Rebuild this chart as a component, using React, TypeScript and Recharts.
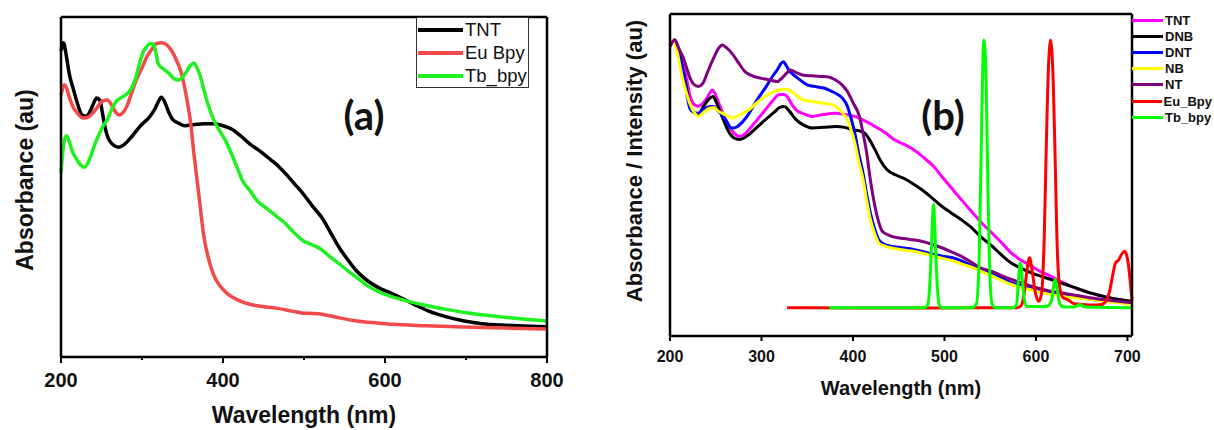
import React from "react";
import { LineChart, Line, XAxis, YAxis, Legend } from "recharts";

// ---- panel (a): wavelength (nm) / absorbance (au, arbitrary) ----
const ticksA = [200, 300, 400, 500, 600, 700, 800];

const tntA: number[][] = [
  [200, 0.9], [203, 0.924], [207, 0.88], [210, 0.835], [215, 0.79], [219, 0.756], [226, 0.712],
  [231, 0.708], [235, 0.718], [240, 0.745], [244, 0.762], [248, 0.755], [251, 0.72], [254, 0.68],
  [258, 0.645], [264, 0.625], [271, 0.617], [278, 0.625], [288, 0.65], [298, 0.68], [309, 0.705],
  [316, 0.73], [320, 0.75], [324, 0.764], [328, 0.75], [333, 0.72], [338, 0.698], [345, 0.688],
  [353, 0.68], [365, 0.684], [378, 0.686], [388, 0.686], [400, 0.68], [411, 0.67], [422, 0.65],
  [433, 0.627], [446, 0.605], [459, 0.58], [468, 0.562], [477, 0.54], [488, 0.51], [499, 0.48],
  [510, 0.445], [522, 0.41], [533, 0.365], [544, 0.32], [555, 0.283], [565, 0.253], [578, 0.225],
  [592, 0.204], [605, 0.19], [619, 0.175], [636, 0.155], [654, 0.135], [676, 0.118], [698, 0.106],
  [720, 0.098], [743, 0.094], [765, 0.092], [787, 0.09], [800, 0.089],
];

const euA: number[][] = [
  [200, 0.77], [204, 0.8], [207, 0.79], [210, 0.766], [215, 0.735], [219, 0.721], [227, 0.703],
  [233, 0.705], [239, 0.717], [245, 0.735], [250, 0.751], [257, 0.756], [264, 0.735], [268, 0.718],
  [272, 0.712], [277, 0.72], [281, 0.736], [287, 0.775], [293, 0.815], [300, 0.85], [306, 0.883],
  [312, 0.905], [318, 0.922], [325, 0.924], [332, 0.915], [338, 0.895], [343, 0.87], [348, 0.84],
  [352, 0.8], [356, 0.75], [360, 0.69], [364, 0.6], [368, 0.52], [372, 0.44], [376, 0.36],
  [381, 0.3], [388, 0.244], [396, 0.21], [406, 0.185], [418, 0.168], [433, 0.155], [450, 0.148],
  [468, 0.143], [485, 0.135], [499, 0.129], [510, 0.128], [522, 0.126], [540, 0.117], [565, 0.106],
  [590, 0.1], [610, 0.096], [650, 0.092], [698, 0.088], [750, 0.085], [800, 0.082],
];

const tbA: number[][] = [
  [200, 0.54], [202, 0.6], [205, 0.645], [207, 0.651], [210, 0.635], [214, 0.605], [218, 0.587],
  [223, 0.568], [229, 0.558], [234, 0.575], [238, 0.6], [242, 0.627], [248, 0.66], [252, 0.68],
  [257, 0.697], [263, 0.73], [269, 0.754], [276, 0.765], [282, 0.775], [287, 0.79], [292, 0.82],
  [297, 0.864], [302, 0.9], [306, 0.913], [310, 0.922], [314, 0.92], [318, 0.885], [320, 0.862],
  [326, 0.848], [333, 0.835], [340, 0.818], [345, 0.815], [349, 0.82], [355, 0.84], [360, 0.858],
  [364, 0.865], [368, 0.85], [371, 0.833], [376, 0.79], [380, 0.755], [384, 0.725], [390, 0.69],
  [396, 0.665], [403, 0.637], [410, 0.6], [417, 0.56], [424, 0.519], [433, 0.49], [442, 0.46],
  [455, 0.435], [468, 0.41], [476, 0.395], [482, 0.38], [490, 0.36], [499, 0.342], [510, 0.33],
  [521, 0.317], [532, 0.295], [544, 0.273], [555, 0.252], [565, 0.234], [578, 0.21], [592, 0.192],
  [610, 0.176], [630, 0.163], [654, 0.15], [676, 0.14], [698, 0.131], [720, 0.124], [743, 0.118],
  [770, 0.112], [800, 0.106],
];

// ---- panel (b): wavelength (nm) / absorbance-intensity (au) ----
const ticksB = [200, 300, 400, 500, 600, 700];

const tntB: number[][] = [
  [200, 0.9], [205, 0.919], [210, 0.89], [214, 0.857], [218, 0.8], [222, 0.744], [226, 0.72],
  [231, 0.713], [235, 0.72], [239, 0.733], [243, 0.752], [246, 0.764], [249, 0.755], [252, 0.733],
  [258, 0.69], [265, 0.651], [270, 0.63], [276, 0.62], [281, 0.625], [286, 0.64], [295, 0.67],
  [304, 0.702], [312, 0.73], [319, 0.749], [324, 0.75], [328, 0.744], [333, 0.72], [338, 0.702],
  [346, 0.69], [356, 0.682], [368, 0.688], [381, 0.692], [392, 0.688], [402, 0.682], [413, 0.668],
  [424, 0.651], [435, 0.632], [445, 0.61], [456, 0.595], [466, 0.579], [477, 0.555], [488, 0.527],
  [498, 0.492], [509, 0.455], [520, 0.418], [531, 0.382], [541, 0.35], [552, 0.32], [563, 0.288],
  [573, 0.258], [584, 0.235], [595, 0.217], [605, 0.2], [616, 0.186], [627, 0.17], [638, 0.155],
  [648, 0.144], [659, 0.134], [670, 0.126], [680, 0.119], [692, 0.113], [705, 0.107],
];

const dnbB: number[][] = [
  [200, 0.905], [205, 0.919], [210, 0.88], [216, 0.8], [220, 0.74], [224, 0.702], [228, 0.69],
  [231, 0.687], [235, 0.705], [239, 0.723], [243, 0.737], [247, 0.744], [250, 0.73], [254, 0.702],
  [260, 0.66], [265, 0.63], [270, 0.615], [276, 0.61], [281, 0.615], [286, 0.625], [295, 0.648],
  [304, 0.671], [314, 0.695], [320, 0.71], [325, 0.713], [330, 0.7], [338, 0.671], [346, 0.655],
  [356, 0.646], [368, 0.648], [381, 0.651], [391, 0.648], [400, 0.64], [407, 0.637], [413, 0.63],
  [418, 0.61], [424, 0.579], [430, 0.545], [437, 0.517], [447, 0.5], [458, 0.486], [466, 0.472],
  [475, 0.455], [486, 0.43], [497, 0.403], [507, 0.383], [518, 0.362], [529, 0.338], [539, 0.31],
  [552, 0.279], [563, 0.25], [573, 0.227], [584, 0.21], [595, 0.196], [605, 0.186], [616, 0.176],
  [627, 0.165], [638, 0.155], [648, 0.145], [659, 0.134], [670, 0.126], [680, 0.119], [692, 0.113],
  [705, 0.107],
];

const dntB: number[][] = [
  [200, 0.905], [205, 0.919], [210, 0.88], [215, 0.81], [219, 0.74], [222, 0.705], [226, 0.695],
  [231, 0.692], [235, 0.7], [239, 0.708], [244, 0.713], [248, 0.713], [252, 0.7], [257, 0.687],
  [262, 0.665], [267, 0.646], [272, 0.648], [278, 0.661], [286, 0.69], [295, 0.733], [304, 0.77],
  [312, 0.806], [318, 0.83], [321, 0.845], [324, 0.852], [327, 0.84], [330, 0.825], [333, 0.816],
  [340, 0.8], [350, 0.78], [360, 0.774], [368, 0.77], [375, 0.762], [381, 0.754], [388, 0.74],
  [394, 0.713], [398, 0.675], [402, 0.63], [406, 0.57], [411, 0.506], [415, 0.44], [419, 0.382],
  [424, 0.33], [428, 0.3], [434, 0.285], [441, 0.279], [453, 0.274], [466, 0.269], [477, 0.262],
  [488, 0.253], [498, 0.248], [509, 0.243], [520, 0.232], [531, 0.217], [541, 0.206], [552, 0.196],
  [563, 0.18], [573, 0.165], [584, 0.157], [595, 0.15], [605, 0.143], [616, 0.136], [627, 0.13],
  [638, 0.124], [648, 0.119], [659, 0.114], [680, 0.108], [705, 0.101],
];

const nbB: number[][] = [
  [200, 0.905], [204, 0.919], [208, 0.88], [211, 0.837], [214, 0.795], [218, 0.754], [222, 0.72],
  [227, 0.692], [231, 0.682], [235, 0.69], [239, 0.7], [244, 0.708], [248, 0.71], [252, 0.7],
  [257, 0.692], [263, 0.683], [269, 0.677], [277, 0.688], [286, 0.702], [295, 0.725], [304, 0.744],
  [312, 0.757], [319, 0.764], [325, 0.766], [330, 0.764], [338, 0.748], [346, 0.733], [357, 0.728],
  [368, 0.723], [375, 0.72], [381, 0.713], [388, 0.695], [394, 0.671], [398, 0.64], [402, 0.6],
  [406, 0.545], [411, 0.486], [415, 0.42], [419, 0.362], [424, 0.315], [428, 0.29], [434, 0.28],
  [441, 0.274], [453, 0.268], [466, 0.263], [477, 0.256], [488, 0.248], [498, 0.241], [509, 0.233],
  [520, 0.222], [531, 0.212], [541, 0.2], [552, 0.186], [563, 0.172], [573, 0.16], [584, 0.15],
  [595, 0.143], [605, 0.136], [616, 0.129], [638, 0.12], [659, 0.114], [680, 0.106], [705, 0.098],
];

const ntB: number[][] = [
  [200, 0.899], [205, 0.919], [210, 0.89], [214, 0.868], [218, 0.835], [222, 0.8], [226, 0.782],
  [231, 0.775], [236, 0.785], [242, 0.826], [248, 0.865], [253, 0.893], [257, 0.904], [262, 0.895],
  [269, 0.873], [275, 0.848], [282, 0.821], [290, 0.808], [300, 0.8], [310, 0.795], [317, 0.79],
  [322, 0.8], [327, 0.815], [332, 0.826], [338, 0.818], [346, 0.81], [355, 0.808], [364, 0.806],
  [372, 0.805], [381, 0.795], [388, 0.78], [394, 0.759], [400, 0.725], [407, 0.682], [411, 0.63],
  [415, 0.568], [419, 0.485], [424, 0.403], [428, 0.355], [432, 0.325], [440, 0.312], [449, 0.305],
  [462, 0.3], [475, 0.294], [486, 0.285], [497, 0.274], [507, 0.262], [518, 0.248], [529, 0.23],
  [539, 0.212], [552, 0.201], [563, 0.187], [573, 0.176], [584, 0.165], [595, 0.155], [605, 0.147],
  [616, 0.139], [627, 0.134], [638, 0.129], [648, 0.124], [659, 0.119], [680, 0.111], [705, 0.103],
];

const euB: number[][] = [
  [328, 0.088], [400, 0.087], [480, 0.087], [560, 0.088], [580, 0.088], [584, 0.095], [587, 0.13],
  [590, 0.2], [593, 0.243], [596, 0.2], [599, 0.14], [603, 0.108], [606, 0.13], [609, 0.3],
  [611, 0.55], [613, 0.78], [616, 0.919], [619, 0.78], [621, 0.55], [623, 0.3], [626, 0.15],
  [630, 0.118], [634, 0.114], [642, 0.1], [651, 0.098], [660, 0.096], [672, 0.098], [677, 0.11],
  [681, 0.145], [684, 0.19], [687, 0.227], [690, 0.235], [694, 0.255], [697, 0.263], [700, 0.24],
  [702, 0.2], [704, 0.14], [705, 0.11],
];

const tbB: number[][] = [
  [374, 0.088], [450, 0.088], [478, 0.088], [482, 0.1], [485, 0.22], [486.5, 0.33], [488, 0.408],
  [489.5, 0.33], [491, 0.22], [494, 0.1], [497, 0.088], [530, 0.088], [535, 0.1], [538, 0.25],
  [540, 0.55], [542, 0.85], [543, 0.919], [545, 0.85], [547, 0.55], [549, 0.25], [552, 0.1],
  [556, 0.088], [575, 0.088], [579, 0.1], [581, 0.18], [583, 0.227], [585, 0.18], [587, 0.12],
  [590, 0.092], [612, 0.092], [617, 0.11], [619, 0.15], [621, 0.176], [623, 0.15], [626, 0.1],
  [630, 0.09], [642, 0.09], [648, 0.097], [654, 0.09], [705, 0.088],
];

const seriesA = [
  { name: "TNT", color: "#000000", data: tntA },
  { name: "Eu Bpy", color: "#f24a4a", data: euA },
  { name: "Tb_bpy", color: "#1ff01f", data: tbA },
];

const seriesB = [
  { name: "TNT", color: "#ff00ff", data: tntB },
  { name: "DNB", color: "#000000", data: dnbB },
  { name: "DNT", color: "#0000ff", data: dntB },
  { name: "NB", color: "#ffff00", data: nbB },
  { name: "NT", color: "#800080", data: ntB },
  { name: "Eu_Bpy", color: "#ff0000", data: euB },
  { name: "Tb_bpy", color: "#00ff00", data: tbB },
];

const toPoints = (arr: number[][]) => arr.map(([x, y]) => ({ x, y }));

const FONT = "Arial, 'Liberation Sans', sans-serif";

const TickA = (props: any) => {
  const { x, y, payload } = props;
  const major = payload.value % 200 === 0;
  return (
    <g>
      <line x1={x} y1={y} x2={x} y2={y + (major ? 6 : 3)} stroke="#000" strokeWidth={2} />
      {major && (
        <text x={x} y={y + 30} textAnchor="middle" fontFamily={FONT} fontWeight="bold" fontSize={20} fill="#111">
          {payload.value}
        </text>
      )}
    </g>
  );
};

const TickB = (props: any) => {
  const { x, y, payload } = props;
  return (
    <g>
      <line x1={x} y1={y} x2={x} y2={y + 5} stroke="#000" strokeWidth={2} />
      <text x={x} y={y + 26} textAnchor="middle" fontFamily={FONT} fontWeight="bold" fontSize={16} fill="#111">
        {payload.value}
      </text>
    </g>
  );
};

const legendA = () => (
  <div style={{ width: 113, height: 71, border: "1.5px solid #333", boxSizing: "border-box", background: "#fff", fontFamily: FONT, fontSize: 18.5, color: "#111" }}>
    {seriesA.map((s) => (
      <div key={s.name} style={{ display: "flex", alignItems: "center", height: 23 }}>
        <div style={{ width: 45, height: 4, background: s.color, marginLeft: 1, marginRight: 2 }} />
        <span style={{ lineHeight: "23px" }}>{s.name}</span>
      </div>
    ))}
  </div>
);

const legendB = () => (
  <div style={{ width: 80, fontFamily: FONT, fontSize: 13, fontWeight: "bold", color: "#111", paddingTop: 12 }}>
    {seriesB.map((s) => (
      <div key={s.name} style={{ display: "flex", alignItems: "center", height: 16.2 }}>
        <div style={{ width: 31, height: 3, background: s.color, marginRight: 2 }} />
        <span>{s.name}</span>
      </div>
    ))}
  </div>
);

const label = (text: string, x: number, y: number, size: number, rotate = false, family = FONT) => (
  <div
    style={{
      position: "absolute",
      left: x,
      top: y,
      transform: `translate(-50%, -50%)${rotate ? " rotate(-90deg)" : ""}`,
      whiteSpace: "nowrap",
      fontFamily: family,
      fontWeight: "bold",
      fontSize: size,
      color: "#111",
      lineHeight: 1,
    }}
  >
    {text}
  </div>
);

export default function App() {
  const axisStroke = { stroke: "#000", strokeWidth: 2.5 };
  return (
    <div style={{ position: "absolute", left: 0, top: 0, width: 1214, height: 430, background: "#fff", overflow: "hidden" }}>
      <div style={{ position: "absolute", left: 0, top: 0 }}>
        <LineChart width={600} height={430} margin={{ top: 16, right: 52, bottom: 43, left: 60 }}>
          <XAxis dataKey="x" type="number" domain={[200, 800]} ticks={ticksA} height={30} tickSize={0} tickMargin={0} tickLine={false} axisLine={axisStroke} tick={<TickA />} interval={0} />
          <XAxis xAxisId="top" orientation="top" type="number" dataKey="x" domain={[200, 800]} height={1} tick={false} tickLine={false} axisLine={axisStroke} />
          <YAxis type="number" domain={[0, 1]} width={1} tick={false} tickLine={false} axisLine={axisStroke} />
          <YAxis yAxisId="right" orientation="right" type="number" domain={[0, 1]} width={1} tick={false} tickLine={false} axisLine={axisStroke} />
          {seriesA.map((s) => (
            <Line key={s.name} data={toPoints(s.data)} dataKey="y" name={s.name} type="monotone" stroke={s.color} strokeWidth={3.5} dot={false} activeDot={false} isAnimationActive={false} />
          ))}
          <Legend layout="vertical" align="center" verticalAlign="middle" content={legendA} wrapperStyle={{ left: 416, top: 17, right: "auto", bottom: "auto", width: 113 }} />
        </LineChart>
      </div>
      <div style={{ position: "absolute", left: 600, top: 0 }}>
        <LineChart width={614} height={430} margin={{ top: 13, right: 81, bottom: 64, left: 69 }}>
          <XAxis dataKey="x" type="number" domain={[200, 705]} ticks={ticksB} height={30} tickSize={0} tickMargin={0} tickLine={false} axisLine={axisStroke} tick={<TickB />} interval={0} />
          <XAxis xAxisId="top" orientation="top" type="number" dataKey="x" domain={[200, 705]} height={1} tick={false} tickLine={false} axisLine={axisStroke} />
          <YAxis type="number" domain={[0, 1]} width={1} tick={false} tickLine={false} axisLine={axisStroke} />
          <YAxis yAxisId="right" orientation="right" type="number" domain={[0, 1]} width={1} tick={false} tickLine={false} axisLine={axisStroke} />
          {seriesB.map((s) => (
            <Line key={s.name} data={toPoints(s.data)} dataKey="y" name={s.name} type="monotone" stroke={s.color} strokeWidth={3} dot={false} activeDot={false} isAnimationActive={false} />
          ))}
          <Legend layout="vertical" align="center" verticalAlign="middle" content={legendB} wrapperStyle={{ left: 532, top: 0, right: "auto", bottom: "auto", width: 82 }} />
        </LineChart>
      </div>
      {label("Absorbance (au)", 25, 180, 23, true)}
      {label("Wavelength (nm)", 304, 415, 23)}
      {label("(a)", 364, 115, 40, false, "Lato, 'Open Sans', sans-serif")}
      {label("Absorbance / Intensity (au)", 635, 161, 22, true)}
      {label("Wavelength (nm)", 901, 388, 20)}
      {label("(b)", 943, 115, 40, false, "Lato, 'Open Sans', sans-serif")}
    </div>
  );
}
